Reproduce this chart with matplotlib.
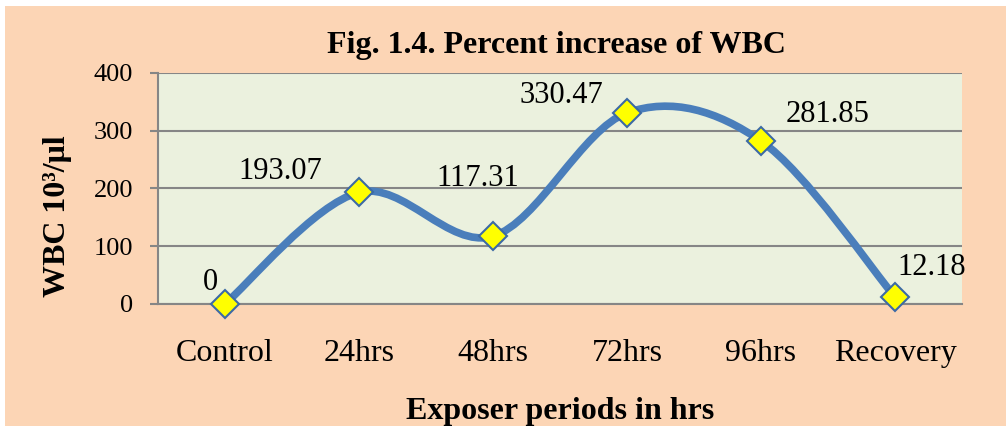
import matplotlib
matplotlib.use("Agg")
import matplotlib.pyplot as plt
from matplotlib.path import Path
from matplotlib.patches import PathPatch, Rectangle
import numpy as np

plt.rcParams['font.family'] = ['Liberation Serif', 'DejaVu Serif']

periods = ["Control", "24hrs", "48hrs", "72hrs", "96hrs", "Recovery"]
wbc_increase = [0, 193.07, 117.31, 330.47, 281.85, 12.18]
value_labels = ["0", "193.07", "117.31", "330.47", "281.85", "12.18"]
# where each value label sits relative to its marker (pixels)
label_offsets = [(-15, 21), (-79, 21), (-15, 58), (-66, 17), (67, 27), (37, 29)]

W, H = 1006, 426
fig = plt.figure(figsize=(W / 100, H / 100), dpi=100, facecolor="white")
fig.patches.append(Rectangle((5 / W, 0), 1, (H - 6) / H, transform=fig.transFigure,
                             facecolor="#FCD5B5", edgecolor="none", zorder=-10))

ax = fig.add_axes([158 / W, 1 - 304 / H, (962 - 158) / W, (304 - 72.7) / H])
ax.set_facecolor("#EBF1DE")

x = np.arange(len(periods))
y = np.array(wbc_increase, dtype=float)

# smoothed line like the spreadsheet one: cubic bezier, catmull-rom tangents
pts = np.column_stack([x, y])
ext = np.vstack([pts[0], pts, pts[-1]])
verts = [tuple(pts[0])]
codes = [Path.MOVETO]
for i in range(len(pts) - 1):
    p0, p1, p2, p3 = ext[i], ext[i + 1], ext[i + 2], ext[i + 3]
    c1 = p1 + (p2 - p0) / 6
    c2 = p2 - (p3 - p1) / 6
    verts += [tuple(c1), tuple(c2), tuple(p2)]
    codes += [Path.CURVE4] * 3
ax.add_patch(PathPatch(Path(verts, codes), facecolor="none", edgecolor="#4A7EBB",
                       lw=5.5, capstyle="round", zorder=3))

ax.plot(x, y, linestyle="none", marker="D", ms=14, mfc="#FFFF00", mec="#3C6AA5",
        mew=1.5, zorder=4, clip_on=False)

for xi, yi, txt, off in zip(x, y, value_labels, label_offsets):
    ax.annotate(txt, (xi, yi), xytext=off, textcoords="offset pixels",
                ha="center", va="center", fontsize=22, color="black", zorder=5)

ax.set_xlim(-0.5, len(periods) - 0.5)
ax.set_ylim(0, 400)
ax.set_yticks([0, 100, 200, 300, 400])
ax.set_xticks(x)
ax.set_xticklabels(periods)
ax.yaxis.grid(True, color="#868686", lw=1.5)
ax.set_axisbelow(True)

for s in ["top", "right"]:
    ax.spines[s].set_visible(False)
for s in ["left", "bottom"]:
    ax.spines[s].set_color("#868686")
    ax.spines[s].set_linewidth(1.5)

ax.tick_params(axis="y", length=6, width=1.5, color="#868686", pad=12, labelsize=19)
ax.tick_params(axis="x", length=0, pad=25, labelsize=23)

fig.text(556 / W, 1 - 53 / H, "Fig. 1.4. Percent increase of WBC", ha="center",
         va="baseline", fontsize=23, fontweight="bold")
fig.text(560 / W, 1 - 419 / H, "Exposer periods in hrs", ha="center",
         va="baseline", fontsize=23, fontweight="bold")
fig.text(57 / W, 1 - 216 / H, "WBC 10³/μl", ha="center", va="center",
         rotation=90, fontsize=23, fontweight="bold")

fig.savefig("out.png", dpi=100, facecolor=fig.get_facecolor())
